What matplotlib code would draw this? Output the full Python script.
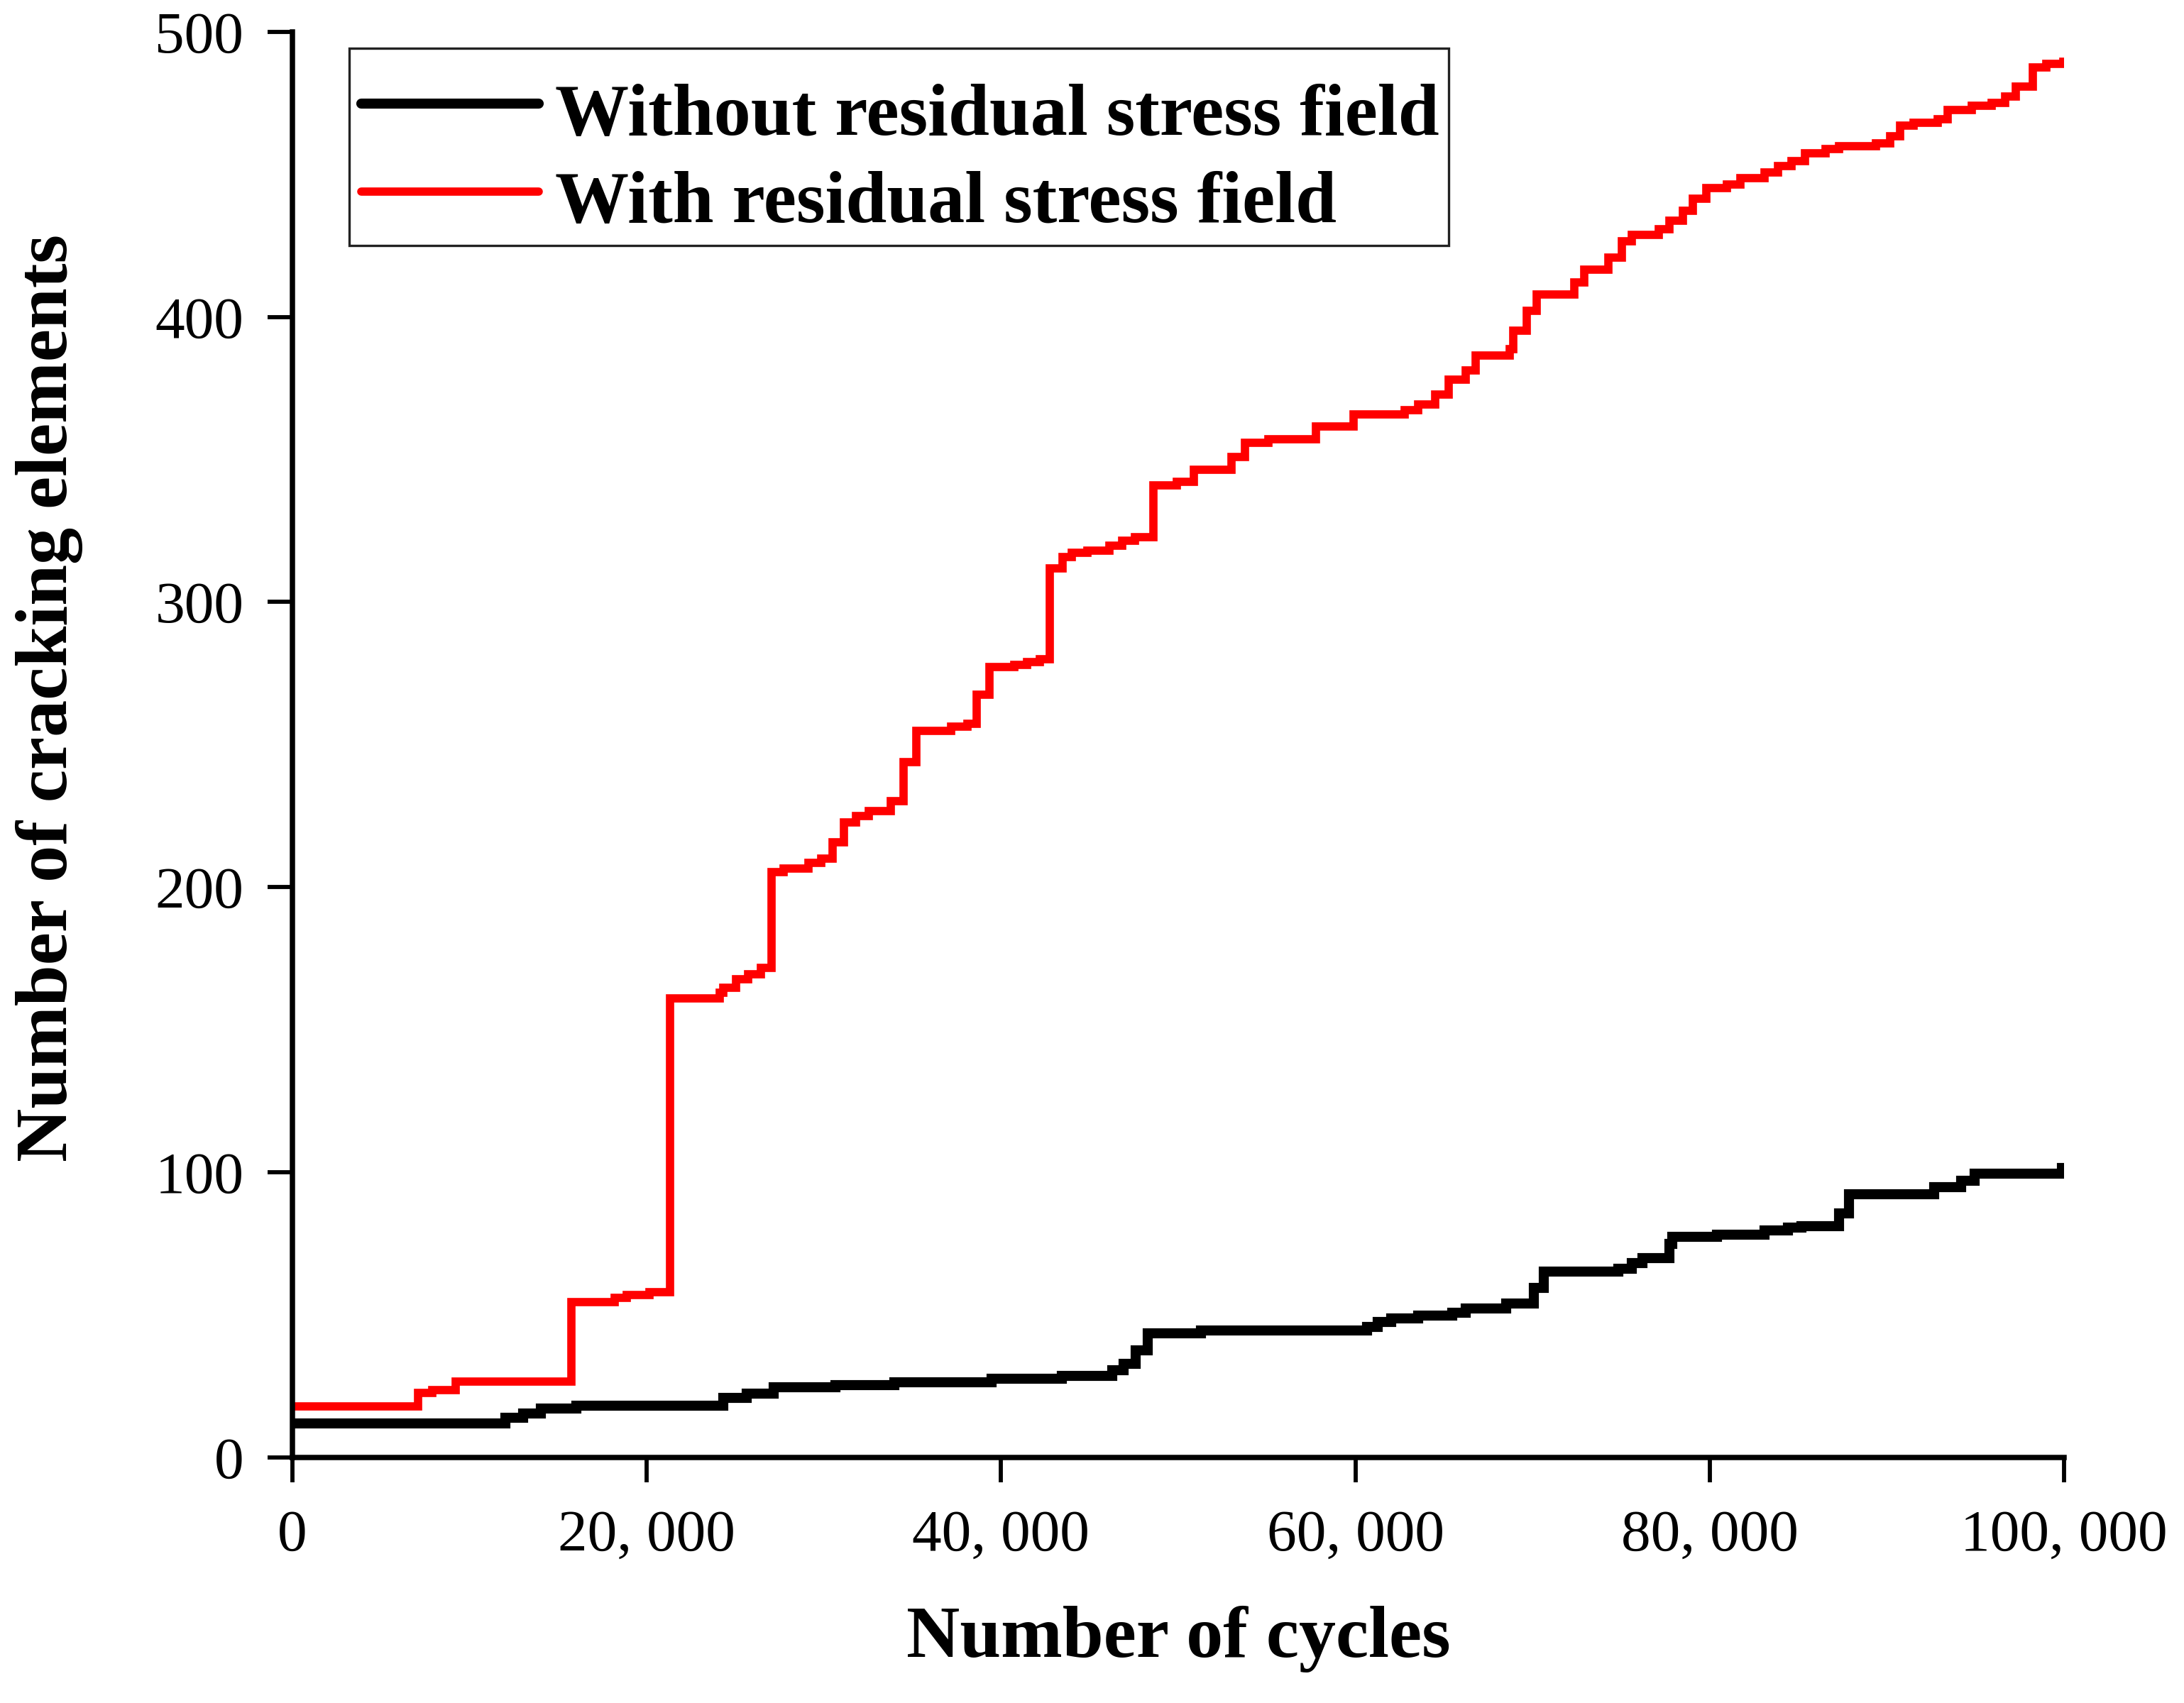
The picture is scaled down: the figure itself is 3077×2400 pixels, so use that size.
import numpy as np
import matplotlib
matplotlib.use("Agg")
import matplotlib.pyplot as plt
from matplotlib.patches import Rectangle

# step data (cycle at which each level starts)
cycles_no_rs = [0, 12030, 13030, 14030, 16020, 24330, 25660, 27160, 30640, 33970,
                39450, 43440, 46260, 46930, 47590, 48260, 51270, 60660, 61240, 62000,
                63540, 65450, 66220, 68520, 70050, 70620, 74840, 75610, 76180, 77710,
                77900, 80400, 83080, 84420, 85190, 87300, 87870, 92660, 94190, 94960,
                99870, 100000]
elements_no_rs = [12, 13.8, 15.3, 17.1, 18.1, 21, 22.4, 24.6, 25.4, 26.4,
                  27.6, 28.6, 30.6, 32.8, 37.6, 43.6, 44.6, 45.7, 47.4, 48.7,
                  49.8, 50.8, 52.3, 53.9, 59.5, 65.1, 66.2, 68.2, 69.8, 74.9,
                  77.3, 78.2, 79.5, 80.5, 81, 85.7, 92.4, 94.9, 97, 99.6,
                  101.5, 101.5]

cycles_rs = [0, 7110, 7880, 9210, 15750, 18180, 18850, 20170, 21300, 24130,
             24310, 25030, 25740, 26460, 27060, 27710, 29140, 29860, 30500, 31110,
             31820, 32540, 33790, 34510, 35220, 37190, 38080, 38620, 39330, 40760,
             41480, 42200, 42730, 43450, 43990, 44880, 46130, 46850, 47560, 48600,
             49930, 50890, 53000, 53760, 55100, 57790, 59890, 62770, 63530, 64490,
             65260, 66220, 66790, 68710, 68900, 69670, 70240, 72350, 72920, 74260,
             75030, 75610, 77140, 77710, 78480, 79050, 79820, 80970, 81740, 83080,
             83850, 84610, 85380, 86530, 87300, 89400, 90170, 90740, 91510, 92850,
             93430, 94770, 95920, 96690, 97260, 98220, 98980, 99940, 100000]
elements_rs = [18, 22.6, 23.6, 26.5, 54.4, 55.9, 56.9, 58, 161, 162.9,
               164.8, 167.8, 169.5, 171.6, 205.3, 206.6, 208.5, 210, 215.8, 222.8,
               224.9, 226.8, 230.1, 243.8, 254.8, 256.4, 257.4, 267.4, 277.3, 278,
               278.9, 279.9, 311.9, 315.8, 317.2, 318, 319.8, 321.5, 322.7, 341,
               342.2, 346.4, 350.8, 355.8, 357.2, 361.5, 365.8, 367.2, 369.3, 372.9,
               377.9, 381.2, 386.5, 388.6, 395.1, 402.2, 407.9, 412.2, 416.5, 420.8,
               426.5, 428.7, 430.8, 433.7, 437.2, 441.5, 445.1, 446.5, 448.7, 450.8,
               453, 454.7, 457.5, 459, 459.8, 460.9, 463.3, 467, 468, 469.4,
               472.7, 474.1, 475.1, 477.3, 480.8, 487.6, 488.7, 489.4, 489.4]

x_ticks = [0, 20000, 40000, 60000, 80000, 100000]
x_tick_labels = ["0", "20, 000", "40, 000", "60, 000", "80, 000", "100, 000"]
y_ticks = [0, 100, 200, 300, 400, 500]

serif = ["Liberation Serif", "DejaVu Serif"]

fig = plt.figure(figsize=(3077 / 300, 2400 / 300), dpi=300)
ax = fig.add_axes([0.1339, 0.1442, 0.8112, 0.8371])

ax.plot(cycles_no_rs, elements_no_rs, drawstyle="steps-post", color="black",
        linewidth=3.4, solid_capstyle="round", solid_joinstyle="miter",
        label="Without residual stress field")
ax.plot(cycles_rs, elements_rs, drawstyle="steps-post", color="#ff0000",
        linewidth=2.8, solid_capstyle="round", solid_joinstyle="miter",
        label="With residual stress field")

ax.set_xlim(0, 100000)
ax.set_ylim(0, 500)
ax.set_xticks(x_ticks)
ax.set_xticklabels(x_tick_labels)
ax.set_yticks(y_ticks)

for side in ["top", "right"]:
    ax.spines[side].set_visible(False)
for side in ["left", "bottom"]:
    ax.spines[side].set_linewidth(1.8)

ax.tick_params(direction="out", length=8.5, width=1.4, labelsize=20)
ax.tick_params(axis="x", pad=9)
ax.tick_params(axis="y", pad=8)
for lab in ax.get_xticklabels() + ax.get_yticklabels():
    lab.set_family(serif)

ax.set_xlabel("Number of cycles", fontsize=25, fontweight="bold", family=serif)
ax.set_ylabel("Number of cracking elements", fontsize=25, fontweight="bold", family=serif)
ax.xaxis.set_label_coords(0.5, -0.104)
ax.yaxis.set_label_coords(-0.118, 0.533)

# legend box drawn separately so it can be taller than the default padding
ax.add_patch(Rectangle((0.032, 0.8502), 0.6206, 0.1384, transform=ax.transAxes,
                       facecolor="white", edgecolor="#222222", linewidth=0.8,
                       zorder=4.5, clip_on=False))
leg = ax.legend(loc="upper left", bbox_to_anchor=(0.0325, 0.979), borderaxespad=0,
                prop={"family": serif, "weight": "bold", "size": 25},
                handlelength=2.4, handleheight=1.15, handletextpad=0.22,
                borderpad=0.15, labelspacing=0.14, frameon=False)
leg.set_zorder(5)

fig.savefig("out.png", dpi=300)
